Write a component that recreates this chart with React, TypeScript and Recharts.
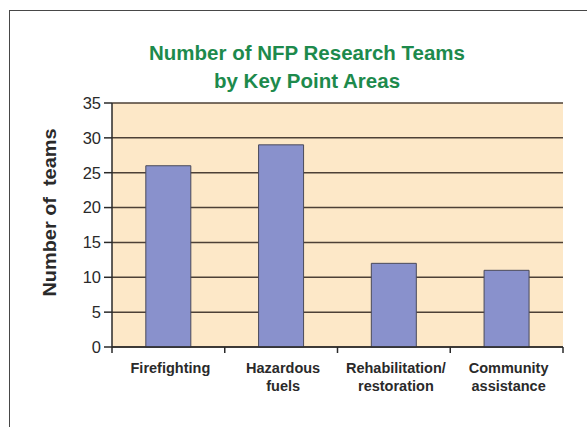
import React from 'react';
import { BarChart, Bar, XAxis, YAxis, CartesianGrid, Label } from 'recharts';

// Key point areas and the number of research teams in each
const categories = ['Firefighting', 'Hazardous\nfuels', 'Rehabilitation/\nrestoration', 'Community\nassistance'];
const teamCounts = [26, 29, 12, 11];
const yTicks = [0, 5, 10, 15, 20, 25, 30, 35];
const titleLines = ['Number of NFP Research Teams', 'by Key Point Areas'];
const yAxisTitle = 'Number of  teams';

const data = categories.map((category, i) => ({ category, teams: teamCounts[i] }));

const FONT = '"Liberation Sans", Arial, sans-serif';
const INK = '#2a2a2a';
const GRID = '#4d4036';

// Category tick: two-line bold label plus boundary tick marks between categories
const XTick = (props: any) => {
  const { x, y, payload, index, visibleTicksCount, width } = props;
  const half = payload?.offset ? payload.offset : width / visibleTicksCount / 2;
  const lines = String(payload.value).split('\n');
  return (
    <g>
      <line x1={x - half} x2={x - half} y1={y} y2={y + 6} stroke={INK} strokeWidth={1.5} />
      {index === visibleTicksCount - 1 && (
        <line x1={x + half} x2={x + half} y1={y} y2={y + 6} stroke={INK} strokeWidth={1.5} />
      )}
      {lines.map((ln, i) => (
        <text
          key={i}
          x={x + 2}
          y={y + 26 + i * 17.5}
          textAnchor="middle"
          fontFamily={FONT}
          fontWeight="bold"
          fontSize={14.5}
          fill={INK}
        >
          {ln}
        </text>
      ))}
    </g>
  );
};

const YTitle = (props: any) => {
  const { viewBox } = props;
  const cx = viewBox.x + 49;
  const cy = viewBox.y + viewBox.height / 2 - 12.5;
  return (
    <text
      x={cx}
      y={cy}
      transform={`rotate(-90, ${cx}, ${cy})`}
      textAnchor="middle"
      dominantBaseline="central"
      fontFamily={FONT}
      fontWeight="bold"
      fontSize={18.5}
      fill={INK}
      textLength={168}
      lengthAdjust="spacingAndGlyphs"
      style={{ whiteSpace: 'pre' }}
    >
      {yAxisTitle}
    </text>
  );
};

export default function App() {
  return (
    <div
      style={{
        position: 'fixed',
        left: 0,
        top: 0,
        width: 587,
        height: 427,
        overflow: 'hidden',
        background: '#ffffff',
      }}
    >
      <div
        style={{
          position: 'absolute',
          left: 9,
          top: 10,
          width: 640,
          height: 500,
          border: '1.5px solid #474747',
        }}
      />
      <div
        style={{
          position: 'absolute',
          left: 107,
          top: 39,
          width: 400,
          textAlign: 'center',
          fontFamily: FONT,
          fontWeight: 'bold',
          fontSize: 20.5,
          lineHeight: '28px',
          color: '#1d8a4c',
        }}
      >
        {titleLines.map((t) => (
          <div key={t}>{t}</div>
        ))}
      </div>
      <div style={{ position: 'absolute', left: 0, top: 0 }}>
        <BarChart
          width={587}
          height={427}
          data={data}
          margin={{ top: 103, right: 24, bottom: 0, left: 0 }}
          barCategoryGap="30%"
        >
          <CartesianGrid
            vertical={false}
            fill="#fde8c8"
            fillOpacity={1}
            stroke={GRID}
            strokeWidth={1.5}
            horizontalValues={yTicks}
            yAxisId="left"
          />
          <XAxis
            dataKey="category"
            height={80}
            tickSize={0}
            tickMargin={0}
            tickLine={false}
            axisLine={{ stroke: INK, strokeWidth: 1.5 }}
            interval={0}
            tick={<XTick />}
          />
          <YAxis
            yAxisId="left"
            width={112}
            domain={[0, 35]}
            ticks={yTicks}
            interval={0}
            tickSize={8}
            tickMargin={3}
            tickLine={{ stroke: INK, strokeWidth: 1.5 }}
            axisLine={{ stroke: INK, strokeWidth: 1.5 }}
            tick={{ fontFamily: FONT, fontSize: 16.5, fill: INK }}
          >
            <Label content={<YTitle />} />
          </YAxis>
          <YAxis
            yAxisId="right"
            orientation="right"
            width={0}
            domain={[0, 35]}
            tick={false}
            tickLine={false}
            axisLine={{ stroke: INK, strokeWidth: 1.5 }}
          />
          <Bar
            yAxisId="left"
            dataKey="teams"
            fill="#8991cc"
            stroke="#4a4a5a"
            strokeWidth={1}
            isAnimationActive={false}
          />
        </BarChart>
      </div>
    </div>
  );
}
